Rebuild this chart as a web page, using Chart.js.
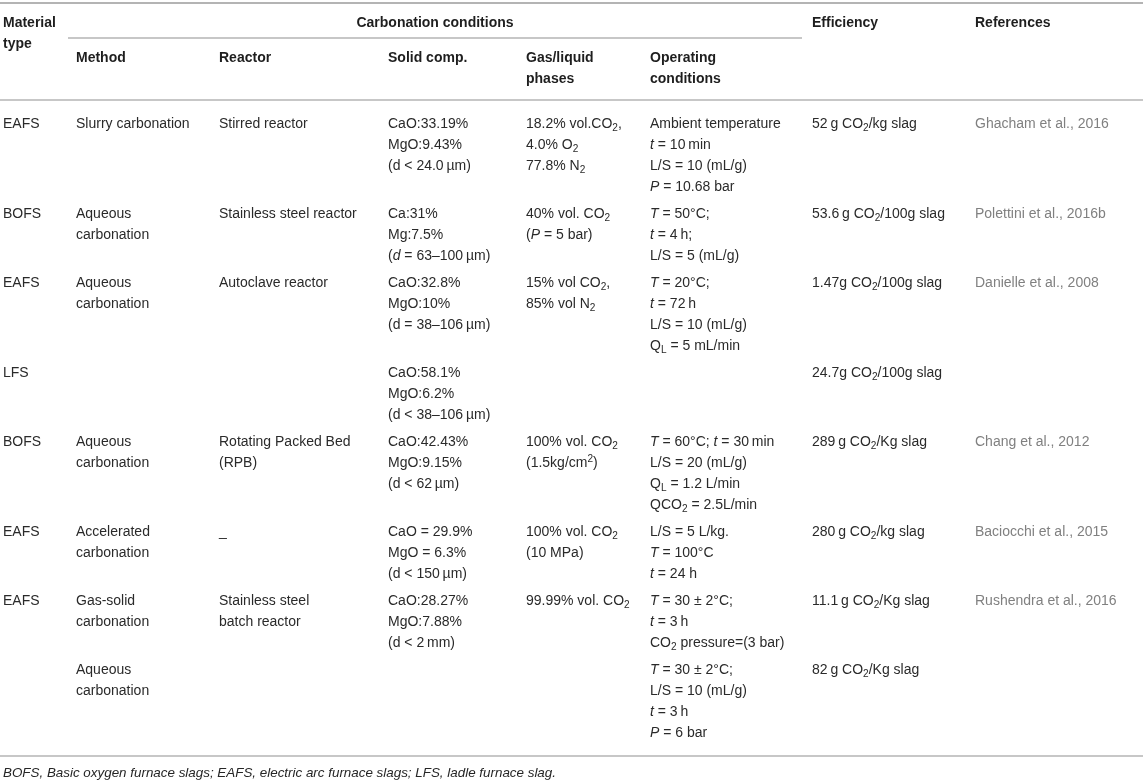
<!DOCTYPE html>
<html>
<head>
<meta charset="utf-8">
<script src="https://cdn.jsdelivr.net/npm/chart.js@4/dist/chart.umd.min.js"></script>
<style>
html,body{margin:0;padding:0;background:#fff;}
#wrap{position:relative;width:1143px;height:783px;}
</style>
</head>
<body>
<div id="wrap"><canvas id="c"></canvas></div>
<script>
// ---------- DATA (markup: *italic*, _{sub}, ^{sup}) ----------
const groupHeader = "Carbonation conditions";
const columnHeaders = [["Material","type"],["Method"],["Reactor"],["Solid comp."],["Gas/liquid","phases"],["Operating","conditions"],["Efficiency"],["References"]];

const materialType = ["EAFS","BOFS","EAFS","LFS","BOFS","EAFS","EAFS",""];
const method = [
  ["Slurry carbonation"],
  ["Aqueous","carbonation"],
  ["Aqueous","carbonation"],
  [],
  ["Aqueous","carbonation"],
  ["Accelerated","carbonation"],
  ["Gas-solid","carbonation"],
  ["Aqueous","carbonation"]
];
const reactor = [
  ["Stirred reactor"],
  ["Stainless steel reactor"],
  ["Autoclave reactor"],
  [],
  ["Rotating Packed Bed","(RPB)"],
  ["_"],
  ["Stainless steel","batch reactor"],
  []
];
const solidComp = [
  ["CaO:33.19%","MgO:9.43%","(d < 24.0\u2009µm)"],
  ["Ca:31%","Mg:7.5%","(*d* = 63–100\u2009µm)"],
  ["CaO:32.8%","MgO:10%","(d = 38–106\u2009µm)"],
  ["CaO:58.1%","MgO:6.2%","(d < 38–106\u2009µm)"],
  ["CaO:42.43%","MgO:9.15%","(d < 62\u2009µm)"],
  ["CaO = 29.9%","MgO = 6.3%","(d < 150\u2009µm)"],
  ["CaO:28.27%","MgO:7.88%","(d < 2\u2009mm)"],
  []
];
const gasLiquid = [
  ["18.2% vol.CO_{2},","4.0% O_{2}","77.8% N_{2}"],
  ["40% vol. CO_{2}","(*P* = 5 bar)"],
  ["15% vol CO_{2},","85% vol N_{2}"],
  [],
  ["100% vol. CO_{2}","(1.5kg/cm^{2})"],
  ["100% vol. CO_{2}","(10 MPa)"],
  ["99.99% vol. CO_{2}"],
  []
];
const operating = [
  ["Ambient temperature","*t* = 10\u2009min","L/S = 10 (mL/g)","*P* = 10.68 bar"],
  ["*T* = 50°C;","*t* = 4\u2009h;","L/S = 5 (mL/g)"],
  ["*T* = 20°C;","*t* = 72\u2009h","L/S = 10 (mL/g)","Q_{L} = 5 mL/min"],
  [],
  ["*T* = 60°C; *t* = 30\u2009min","L/S = 20 (mL/g)","Q_{L} = 1.2 L/min","QCO_{2} = 2.5L/min"],
  ["L/S = 5 L/kg.","*T* = 100°C","*t* = 24 h"],
  ["*T* = 30 ± 2°C;","*t* = 3\u2009h","CO_{2} pressure=(3 bar)"],
  ["*T* = 30 ± 2°C;","L/S = 10 (mL/g)","*t* = 3\u2009h","*P* = 6 bar"]
];
const efficiency = [
  "52\u2009g CO_{2}/kg slag",
  "53.6\u2009g CO_{2}/100g slag",
  "1.47g CO_{2}/100g slag",
  "24.7g CO_{2}/100g slag",
  "289\u2009g CO_{2}/Kg slag",
  "280\u2009g CO_{2}/kg slag",
  "11.1\u2009g CO_{2}/Kg slag",
  "82\u2009g CO_{2}/Kg slag"
];
const references = [
  "Ghacham et al., 2016",
  "Polettini et al., 2016b",
  "Danielle et al., 2008",
  "",
  "Chang et al., 2012",
  "Baciocchi et al., 2015",
  "Rushendra et al., 2016",
  ""
];
const footnote = "BOFS, Basic oxygen furnace slags; EAFS, electric arc furnace slags; LFS, ladle furnace slag.";

// ---------- LAYOUT (in scale units) ----------
const colX = [3, 76, 219, 388, 526, 650, 812, 975];
const groupSpan = [68, 802];
const FAMILY = '"Liberation Sans", Arial, Helvetica, sans-serif';
const FS = 14;
const LINE_H = 21;
const ROW_GAP = 6;
const HEAD_Y1 = 23, HEAD_Y2 = 58, SUBRULE_Y = 38, TOP_RULE = 3, HEAD_RULE = 100, FIRST_ROW = 124;
const TEXT_COLOR = '#2a2a2a', REF_COLOR = '#808080', RULE_COLOR = '#b4b4b4';

function parseRich(str){
  const segs=[]; let italic=false; let buf=''; let i=0;
  const push=(t,mode)=>{ if(t) segs.push({t,italic,mode}); };
  while(i<str.length){
    const ch=str[i];
    if(ch==='*'){ push(buf,'n'); buf=''; italic=!italic; i++; continue; }
    if((ch==='_'||ch==='^') && str[i+1]==='{'){
      push(buf,'n'); buf='';
      const end=str.indexOf('}',i);
      push(str.slice(i+2,end), ch==='_'?'sub':'sup');
      i=end+1; continue;
    }
    buf+=ch; i++;
  }
  push(buf,'n');
  return segs;
}
function drawRich(ctx, str, x, y, opts){
  const size=opts.size||FS, weight=opts.bold?'bold ':'';
  const segs=parseRich(str);
  let cx=x;
  ctx.fillStyle=opts.color||TEXT_COLOR;
  ctx.textBaseline='middle';
  ctx.textAlign='left';
  for(const s of segs){
    let sz=size, dy=0;
    if(s.mode==='sub'){ sz=size*0.72; dy=size*0.28; }
    if(s.mode==='sup'){ sz=size*0.72; dy=-size*0.3; }
    const it = (s.italic||opts.italic)?'italic ':'';
    ctx.font = it+weight+sz+'px '+FAMILY;
    ctx.fillText(s.t, cx, y+dy);
    cx += ctx.measureText(s.t).width;
  }
  return cx-x;
}
function richWidth(ctx,str,opts){
  const size=opts.size||FS, weight=opts.bold?'bold ':'';
  let w=0;
  for(const s of parseRich(str)){
    let sz=(s.mode==='n')?size:size*0.72;
    ctx.font=((s.italic||opts.italic)?'italic ':'')+weight+sz+'px '+FAMILY;
    w+=ctx.measureText(s.t).width;
  }
  return w;
}

const tablePlugin = {
  id:'tablePlugin',
  afterDraw(chart){
    const ctx=chart.ctx, X=chart.scales.x, Y=chart.scales.y;
    const px=v=>X.getPixelForValue(v), py=v=>Y.getPixelForValue(v);
    ctx.save();
    const rule=(x0,x1,y,w)=>{ctx.strokeStyle=RULE_COLOR;ctx.lineWidth=w;ctx.beginPath();ctx.moveTo(px(x0),py(y));ctx.lineTo(px(x1),py(y));ctx.stroke();};
    rule(X.min,X.max,TOP_RULE,2);
    rule(groupSpan[0],groupSpan[1],SUBRULE_Y,1.5);
    rule(X.min,X.max,HEAD_RULE,1.5);

    // headers
    const headOpts={bold:true,color:'#1e1e1e'};
    const gw=richWidth(ctx,groupHeader,headOpts);
    drawRich(ctx,groupHeader,(px(groupSpan[0])+px(groupSpan[1]))/2-gw/2,py(HEAD_Y1),headOpts);
    columnHeaders.forEach((lines,ci)=>{
      const top = (ci===0||ci>=6)?HEAD_Y1:HEAD_Y2;
      lines.forEach((t,li)=>drawRich(ctx,t,px(colX[ci]),py(top+li*LINE_H),headOpts));
    });

    // body
    let rowY=FIRST_ROW;
    for(let r=0;r<materialType.length;r++){
      const cells=[[materialType[r]],method[r],reactor[r],solidComp[r],gasLiquid[r],operating[r],[efficiency[r]],[references[r]]];
      let n=1;
      cells.forEach((lines,ci)=>{
        n=Math.max(n,lines.length);
        lines.forEach((t,li)=>{ if(t) drawRich(ctx,t,px(colX[ci]),py(rowY+li*LINE_H),{color:ci===7?REF_COLOR:TEXT_COLOR}); });
      });
      rowY += (n-1)*LINE_H + LINE_H + ROW_GAP;
    }
    const bottom = rowY - ROW_GAP - LINE_H + 23;
    rule(X.min,X.max,bottom,1.5);
    drawRich(ctx,footnote,px(colX[0]),py(bottom+17),{italic:true,size:13.4,color:'#262626'});
    ctx.restore();
  }
};

new Chart(document.getElementById('c'),{
  type:'scatter',
  data:{datasets:[{data:[]}]},
  options:{
    responsive:true, maintainAspectRatio:false, animation:false, events:[],
    layout:{padding:0},
    plugins:{legend:{display:false},tooltip:{enabled:false}},
    scales:{
      x:{type:'linear',min:0,max:1143,display:false},
      y:{type:'linear',min:0,max:783,reverse:true,display:false}
    }
  },
  plugins:[tablePlugin]
});
</script>
</body>
</html>
